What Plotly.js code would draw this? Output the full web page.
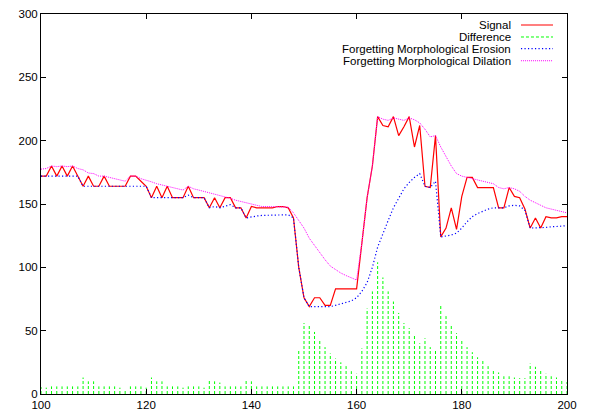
<!DOCTYPE html>
<html>
<head>
<meta charset="utf-8">
<script src="https://cdn.plot.ly/plotly-3.0.1.min.js"></script>
<style>html,body{margin:0;padding:0;background:#fff;}#chart{width:589px;height:410px;}</style>
</head>
<body>
<div id="chart"></div>
<script>
// x positions (samples)
const xs = [100,101,102,103,104,105,106,107,108,109,110,111,112,113,114,115,116,117,118,119,
120,121,122,123,124,125,126,127,128,129,130,131,132,133,134,135,136,137,138,139,
140,141,142,143,144,145,146,147,148,149,150,151,152,153,154,155,156,157,158,159,
160,161,162,163,164,165,166,167,168,169,170,171,172,173,174,175,176,177,178,179,
180,181,182,183,184,185,186,187,188,189,190,191,192,193,194,195,196,197,198,199,200];

const signal = [172,172,180,172,180,172,180,172,164,172,164,164,172,164,164,164,164,172,172,168,
164,155,164,155,164,155,155,155,164,155,155,155,147,155,147,155,155,147,147,139,
148,147,147,147,147,148,148,147,139,100,76,69,76,76,70,70,83,83,83,83,
83,119,155,180,219,212,211,219,204,211,219,195,212,164,163,204,124,131,147,130,
156,171,171,163,163,163,163,147,147,163,156,155,146,131,139,131,140,139,139,140,140];

const difference = [5.5,5,6,6,6,6,6,6,13,10,10,6,6,6,6,5,3,6,6,6,
5,13,10,10,6,6,6,5,6,6,6,5,11,10,9,6,6,6,6,11.5,
10,6,6,6,6,6,6,6,6,34,56,54,49,42,37,32,28,25,22,18,
16,36,67.5,81,104,92,81,73,64,56,52,46,40,44,37,35,69.5,61.5,54,48,
42,37,33,29,27,22,19,17,14,14,13,12.5,12.5,24,21.5,18.5,16,14,13,10.5,9.5];

const erosion = [172,172,172,172,172,172,172,172,164,164,164,164,164,164,164,164,164,164,164,164,
164,155,155,155,155,155,155,155,157,155,155,155,147,148,147,148.5,149.5,147,147,139,
140,140.5,141,141,141,141.5,141.5,141.5,139,100,76,69,69,69,69,69,70,71,72,73.5,
76,81,88,100,116,127,137,147,155,162,167,171,174,164,163,168,124,124.5,125.5,127,
131,136,140,142.5,144.5,146,147,147,147,148.5,149,148.5,145,131,131,131,131.5,132,132,132.5,133];

const dilation = [177.5,178,180,179.5,180,179.5,180,178,177,174.5,174,172,172,171,170,169.5,168,172,172,170,
169,167.5,166,165,164,163,162,161,164,162,161,160,159,158,157,155.5,154.5,153,152,151,
150,148.5,148,148,148,148,148,147.5,143,137,131,123,117,111,106,101,98,95.5,93.5,91.5,
90,119,155,180,219,217,216,218,217,216,218,216.5,214,209,203,204,195,187,180,174,
172,171,170,169,168,167,166,163,162,163,162,160,156,153,151,149,147,146,145,144,143];

const seriesNames = ["Signal", "Difference", "Forgetting Morphological Erosion", "Forgetting Morphological Dilation"];
const xTicks = [100,120,140,160,180,200];
const yTicks = [0,50,100,150,200,250,300];

// impulses for the difference series
const impX = [], impY = [];
xs.forEach((x, i) => { impX.push(x, x, null); impY.push(0, difference[i], null); });

const styles = [
  {color:'#ff0000', width:1.2, dash:'solid'},
  {color:'#00ff00', width:1, dash:'3px,2px'},
  {color:'#0000ff', width:1.2, dash:'1.2px,2.3px'},
  {color:'#ff00ff', width:1, dash:'1px,1px'}
];

const traces = [
  {x: xs, y: signal, type:'scatter', mode:'lines', name: seriesNames[0], line: styles[0], showlegend:false},
  {x: impX, y: impY, type:'scatter', mode:'lines', name: seriesNames[1], line: styles[1], showlegend:false, connectgaps:false},
  {x: xs, y: erosion, type:'scatter', mode:'lines', name: seriesNames[2], line: styles[2], showlegend:false},
  {x: xs, y: dilation, type:'scatter', mode:'lines', name: seriesNames[3], line: styles[3], showlegend:false}
];

const font = {family:'"Liberation Sans", Arial, sans-serif', size:11.5, color:'#000'};
const legendRows = [0.971, 0.9395, 0.909, 0.877];
const annotations = seriesNames.map((n, i) => ({
  text: n, xref:'paper', yref:'paper', x:0.8973, y:legendRows[i], xanchor:'right', yanchor:'middle',
  showarrow:false, font: font
}));
const shapes = seriesNames.map((n, i) => ({
  type:'line', xref:'paper', yref:'paper', x0:0.9125, x1:0.9734, y0:legendRows[i], y1:legendRows[i],
  line: {color: styles[i].color, width: styles[i].width, dash: styles[i].dash}
}));

const axisCommon = {
  showgrid:false, zeroline:false, showline:true, linecolor:'#000', linewidth:1,
  mirror:'ticks', ticks:'inside', ticklen:5, tickcolor:'#000', tickwidth:1, tickfont: font
};

const layout = {
  width:589, height:410,
  margin:{l:41, r:22, t:14, b:16, pad:0},
  paper_bgcolor:'#fff', plot_bgcolor:'#fff',
  showlegend:false,
  xaxis: Object.assign({range:[100,200], tickvals:xTicks, ticktext:xTicks.map(String)}, axisCommon),
  yaxis: Object.assign({range:[0,300], tickvals:yTicks, ticktext:yTicks.map(String)}, axisCommon),
  annotations: annotations,
  shapes: shapes
};

Plotly.newPlot('chart', traces, layout, {staticPlot:true, displayModeBar:false});
</script>
</body>
</html>
